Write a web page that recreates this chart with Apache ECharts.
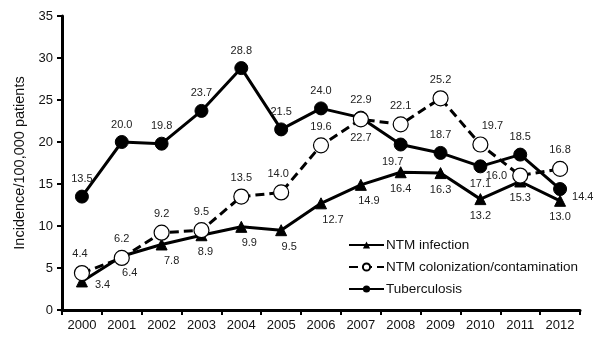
<!DOCTYPE html>
<html><head><meta charset="utf-8">
<script src="https://cdn.jsdelivr.net/npm/echarts@6/dist/echarts.min.js"></script>
<style>html,body{margin:0;padding:0;background:#fff}#c{width:600px;height:343px}</style>
</head><body><div id="c"></div>
<script>
const years = ['2000','2001','2002','2003','2004','2005','2006','2007','2008','2009','2010','2011','2012'];
const ntmInfection = [3.4,6.4,7.8,8.9,9.9,9.5,12.7,14.9,16.4,16.3,13.2,15.3,13.0];
const ntmColonization = [4.4,6.2,9.2,9.5,13.5,14.0,19.6,22.7,22.1,25.2,19.7,16.0,16.8];
const tuberculosis = [13.5,20.0,19.8,23.7,28.8,21.5,24.0,22.9,19.7,18.7,17.1,18.5,14.4];

// label placement per point: [position, dx, dy]
const infLab = [['right',2,4],['bottom',8,0],['bottom',10,0],['bottom',4,0],['bottom',8,0],['bottom',8,0],['bottom',12,0],['bottom',8,0],['bottom',0,0],['bottom',0,0],['bottom',0,0],['bottom',0,0],['bottom',0,0]];
const colLab = [['top',-2,0],['top',0,0],['top',0,0],['top',0,0],['top',0,0],['top',-3,0],['top',0,0],['bottom',0,0],['top',0,0],['top',0,0],['top',12,0],['left',0,0],['top',0,0]];
const tbLab = [['top',0,0],['top',0,0],['top',0,0],['top',0,0],['top',0,0],['top',0,0],['top',0,0],['top',0,0],['bottom',-8,0],['top',0,0],['bottom',0,0],['top',0,0],['right',0,8]];

function mk(vals, labs){
  return vals.map((v,i)=>({value:v,label:{position:labs[i][0],offset:[labs[i][1],labs[i][2]]}}));
}
const font = 'Liberation Sans, Arial, sans-serif';
const lbl = {show:true,fontSize:11,color:'#222',fontFamily:font,distance:5,formatter:p=>p.value.toFixed(1)};

const chart = echarts.init(document.getElementById('c'));
chart.setOption({
  animation:false,
  backgroundColor:'#fff',
  grid:{left:62,right:20,top:16,bottom:33},
  xAxis:{type:'category',data:years,boundaryGap:true,
    axisLine:{lineStyle:{color:'#000',width:3}},
    axisTick:{show:true,length:5,lineStyle:{color:'#000',width:2}},
    axisLabel:{color:'#111',fontSize:13,fontFamily:font,margin:9},
    splitLine:{show:false}},
  yAxis:{type:'value',min:0,max:35,interval:5,
    name:'Incidence/100,000 patients',nameLocation:'middle',nameGap:30,
    nameTextStyle:{fontSize:14.5,color:'#111',fontFamily:font},
    axisLine:{show:true,lineStyle:{color:'#000',width:3}},
    axisTick:{show:true,length:5,lineStyle:{color:'#000',width:2}},
    axisLabel:{color:'#111',fontSize:13,fontFamily:font,margin:9},
    splitLine:{show:false}},
  legend:{orient:'vertical',left:348,top:238,padding:0,itemWidth:35,itemHeight:9,itemGap:8,
    textStyle:{fontSize:13.5,color:'#111',fontFamily:font,padding:[0,0,0,-3]},
    data:['NTM infection','NTM colonization/contamination','Tuberculosis']},
  series:[
    {name:'NTM infection',type:'line',data:mk(ntmInfection,infLab),symbol:'triangle',symbolSize:11,
     lineStyle:{color:'#000',width:3},itemStyle:{color:'#000',borderColor:'#000'},label:lbl,z:3},
    {name:'NTM colonization/contamination',type:'line',data:mk(ntmColonization,colLab),symbol:'circle',symbolSize:15,
     lineStyle:{color:'#000',width:3,type:[9,5]},itemStyle:{color:'#fff',borderColor:'#000',borderWidth:1.2},label:lbl,z:4},
    {name:'Tuberculosis',type:'line',data:mk(tuberculosis,tbLab),symbol:'circle',symbolSize:13,
     lineStyle:{color:'#000',width:3},itemStyle:{color:'#000',borderColor:'#000'},label:lbl,z:2}
  ]
});
</script></body></html>
